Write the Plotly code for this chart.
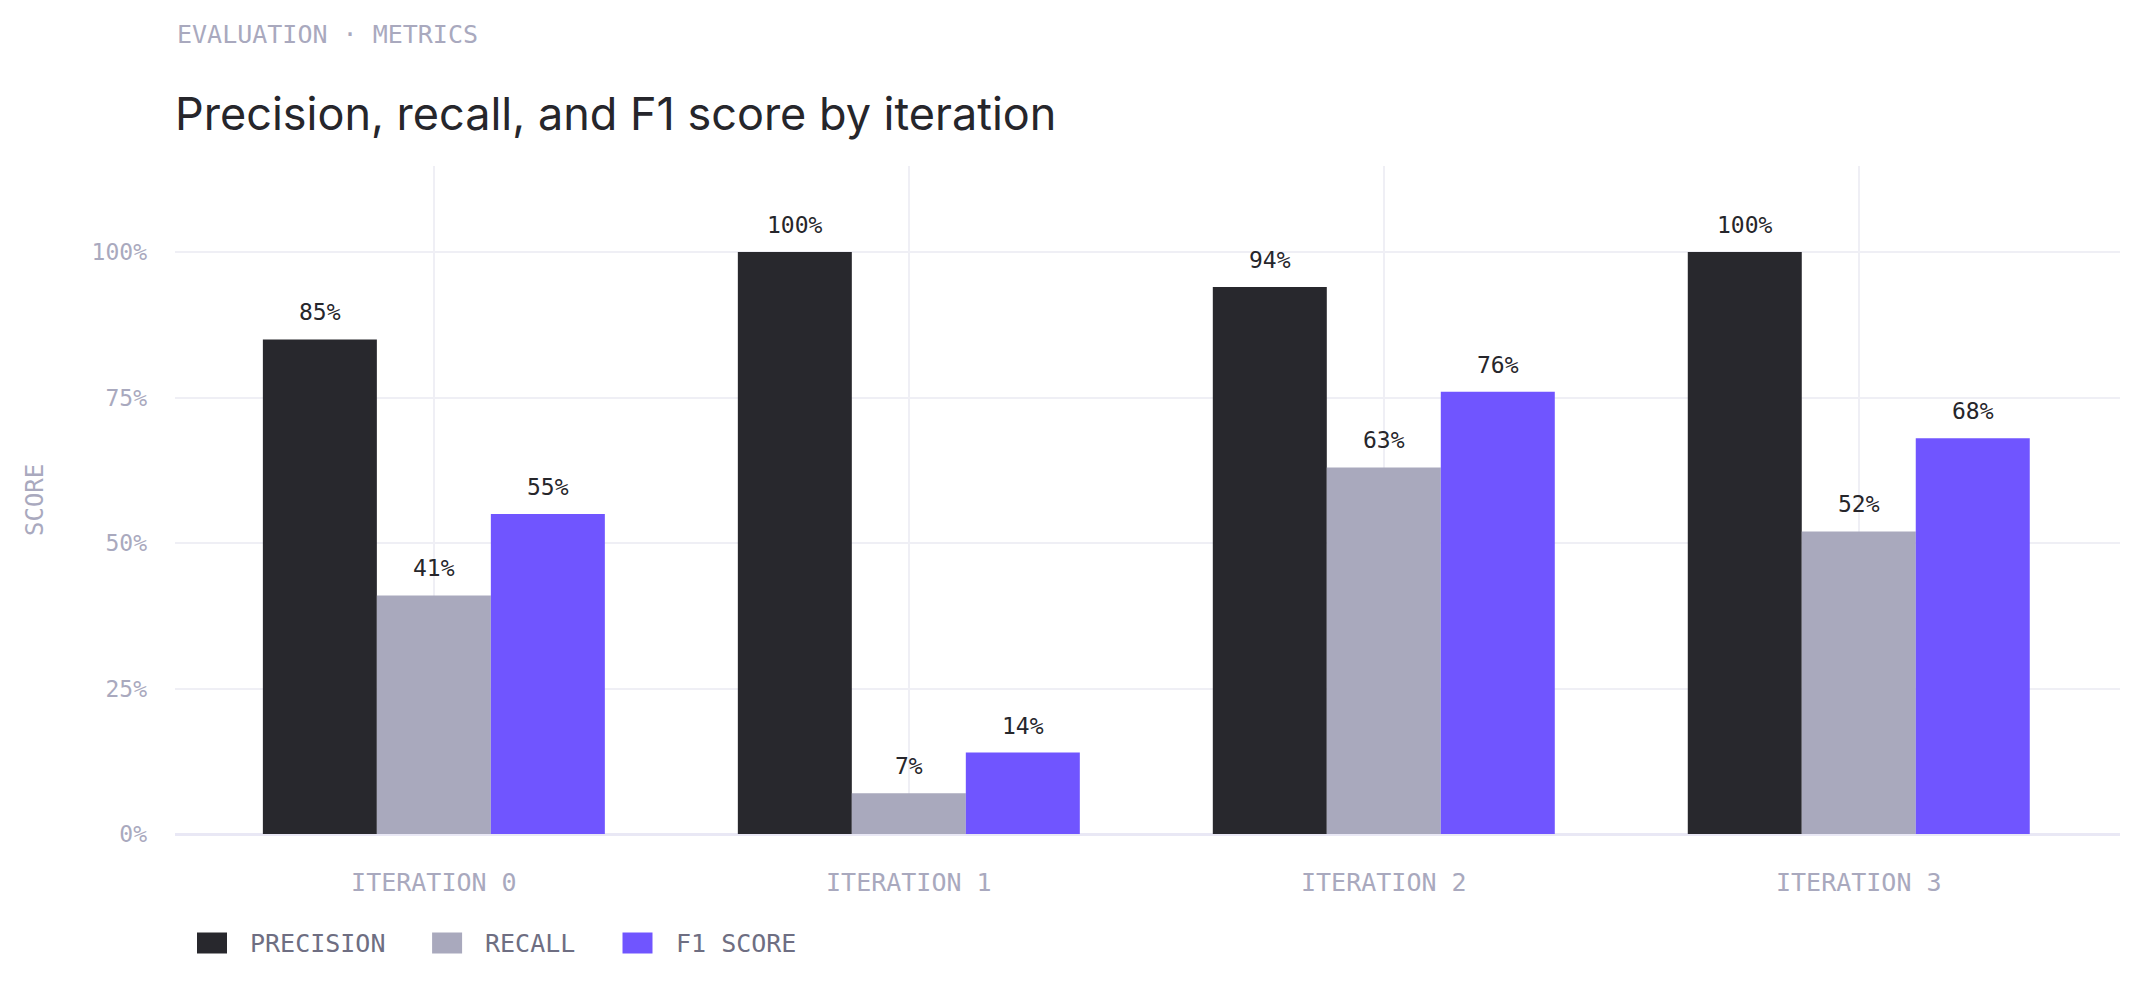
import plotly.graph_objects as go

categories = ["ITERATION 0", "ITERATION 1", "ITERATION 2", "ITERATION 3"]
precision = [85, 100, 94, 100]
recall = [41, 7, 63, 52]
f1_score = [55, 14, 76, 68]
series_names = ["PRECISION", "RECALL", "F1 SCORE"]
colors = ["#28282d", "#a9a9bd", "#7055ff"]
ytick_vals = [0, 25, 50, 75, 100]
ytick_text = ["0%", "25%", "50%", "75%", "100%"]

W, H = 2136, 987
ML, MR, MT, MB = 175, 16, 166, 153
PW, PH = W - ML - MR, H - MT - MB
BARGAP = 0.28
MONO = "DejaVu Sans Mono, monospace"
SANS = "Inter, Roboto, sans-serif"
LIGHT = "#a9a9be"
GRID = "#efeff5"


def px_x(px):
    return (px - ML) / PW


def px_y(py):
    return (H - MB - py) / PH


fig = go.Figure()
series = [precision, recall, f1_score]
for name, vals, col in zip(series_names, series, colors):
    fig.add_trace(go.Bar(x=categories, y=vals, name=name,
                         marker=dict(color=col, line=dict(width=0)),
                         showlegend=False, hoverinfo="skip"))

annotations = []
n = len(series)
w = (1 - BARGAP) / n
for j, vals in enumerate(series):
    off = (j - (n - 1) / 2) * w
    for i, v in enumerate(vals):
        annotations.append(dict(x=i + off, y=v, xref="x", yref="y", text=f"{v}%",
                                showarrow=False, yshift=27, yanchor="middle",
                                font=dict(family=MONO, size=23, color="#26262b")))

annotations.append(dict(x=0, xref="paper", xanchor="left", y=px_y(34), yref="paper",
                        yanchor="middle", text="EVALUATION · METRICS", showarrow=False,
                        font=dict(family=MONO, size=25, color=LIGHT)))
annotations.append(dict(x=px_x(35), xref="paper", xanchor="center", y=0.5,
                        yref="paper", yanchor="middle", text="SCORE", textangle=-90,
                        showarrow=False, font=dict(family=MONO, size=24, color=LIGHT)))

# custom legend (wide swatches)
shapes = []
LEG_Y = 943
SW_W, SW_H, TXT_GAP, ITEM_GAP, CHAR_W = 30, 21, 21, 50, 14.9
x0 = 197
for name, col in zip(series_names, colors):
    shapes.append(dict(type="rect", xref="paper", yref="paper",
                       x0=px_x(x0), x1=px_x(x0 + SW_W),
                       y0=px_y(LEG_Y + SW_H / 2), y1=px_y(LEG_Y - SW_H / 2),
                       fillcolor=col, line=dict(width=0)))
    tx = x0 + SW_W + TXT_GAP
    annotations.append(dict(x=px_x(tx), xref="paper", xanchor="left", y=px_y(LEG_Y),
                            yref="paper", yanchor="middle", text=name, showarrow=False,
                            font=dict(family=MONO, size=25, color="#6e6e82")))
    x0 = tx + len(name) * CHAR_W + ITEM_GAP

fig.update_layout(
    width=W, height=H,
    margin=dict(l=ML, r=MR, t=MT, b=MB),
    paper_bgcolor="white", plot_bgcolor="white",
    barmode="group", bargap=BARGAP, bargroupgap=0,
    title=dict(text="Precision, recall, and F1 score by iteration", x=0, xref="paper",
               xanchor="left", y=1 - 114 / H, yref="container", yanchor="middle",
               font=dict(family=SANS, size=45, color="#26262b")),
    xaxis=dict(type="category", range=[-0.545, 3.55], showgrid=True, gridcolor=GRID, gridwidth=2,
               ticks="", showline=False, zeroline=False, ticklabelstandoff=31,
               tickfont=dict(family=MONO, size=25, color=LIGHT)),
    yaxis=dict(range=[0, 114.8], tickvals=ytick_vals, ticktext=ytick_text, showgrid=True,
               gridcolor=GRID, gridwidth=2, zeroline=True, zerolinecolor="#e9e8f5",
               zerolinewidth=3, ticks="", ticklabelstandoff=27,
               tickfont=dict(family=MONO, size=23, color=LIGHT)),
    annotations=annotations,
    shapes=shapes,
    showlegend=False,
)

fig.write_html("out.html")
